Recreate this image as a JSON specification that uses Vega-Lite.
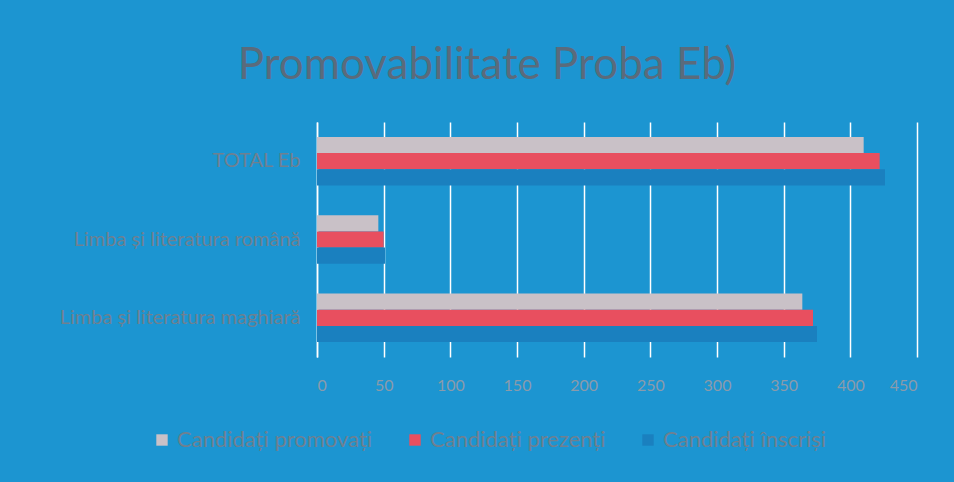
{
  "$schema": "https://vega.github.io/schema/vega-lite/v6.json",
  "autosize": {"type": "none"},
  "width": 600,
  "height": 235,
  "padding": {"left": 317, "top": 122, "right": 37, "bottom": 125},
  "background": "#1c95d1",
  "config": {"view": {"stroke": null}},
  "title": {
    "text": "Promovabilitate Proba Eb)",
    "font": "Lato",
    "fontSize": 44,
    "fontWeight": "normal",
    "color": "#5a6b7c",
    "anchor": "middle",
    "frame": "group",
    "dx": -130,
    "offset": 34
  },
  "data": {
    "values": [
      {"categorie": "TOTAL Eb", "serie": "Candidați promovați", "valoare": 410},
      {"categorie": "TOTAL Eb", "serie": "Candidați prezenți", "valoare": 422},
      {"categorie": "TOTAL Eb", "serie": "Candidați înscriși", "valoare": 426},
      {"categorie": "Limba și literatura română", "serie": "Candidați promovați", "valoare": 46},
      {"categorie": "Limba și literatura română", "serie": "Candidați prezenți", "valoare": 50},
      {"categorie": "Limba și literatura română", "serie": "Candidați înscriși", "valoare": 51},
      {"categorie": "Limba și literatura maghiară", "serie": "Candidați promovați", "valoare": 364},
      {"categorie": "Limba și literatura maghiară", "serie": "Candidați prezenți", "valoare": 372},
      {"categorie": "Limba și literatura maghiară", "serie": "Candidați înscriși", "valoare": 375}
    ]
  },
  "mark": {"type": "bar"},
  "encoding": {
    "y": {
      "field": "categorie",
      "type": "nominal",
      "sort": ["TOTAL Eb", "Limba și literatura română", "Limba și literatura maghiară"],
      "scale": {"paddingInner": 0.38, "paddingOuter": 0.19},
      "axis": {
        "title": null,
        "domain": true,
        "domainColor": "#ffffff",
        "domainWidth": 1.5,
        "ticks": false,
        "grid": false,
        "labelFont": "Lato",
        "labelFontSize": 20,
        "labelColor": "#6f8090",
        "labelPadding": 17,
        "labelLimit": 320
      }
    },
    "yOffset": {
      "field": "serie",
      "type": "nominal",
      "sort": ["Candidați promovați", "Candidați prezenți", "Candidați înscriși"],
      "scale": {"paddingInner": 0, "paddingOuter": 0}
    },
    "x": {
      "field": "valoare",
      "type": "quantitative",
      "scale": {"domain": [0, 450], "nice": false},
      "axis": {
        "title": null,
        "values": [0, 50, 100, 150, 200, 250, 300, 350, 400, 450],
        "domain": false,
        "ticks": false,
        "grid": true,
        "gridColor": "#ffffff",
        "gridWidth": 1.5,
        "gridOpacity": 1,
        "labelFont": "Lato",
        "labelFontSize": 16,
        "labelColor": "#8a9bab",
        "labelPadding": 20
      }
    },
    "color": {
      "field": "serie",
      "type": "nominal",
      "sort": ["Candidați promovați", "Candidați prezenți", "Candidați înscriși"],
      "scale": {
        "domain": ["Candidați promovați", "Candidați prezenți", "Candidați înscriși"],
        "range": ["#c9c1c7", "#e84f5f", "#1a80bf"]
      },
      "legend": {
        "title": null,
        "orient": "none",
        "direction": "horizontal",
        "legendX": -166,
        "legendY": 307,
        "symbolType": "square",
        "symbolSize": 130,
        "symbolStrokeWidth": 0,
        "labelFont": "Lato",
        "labelFontSize": 22,
        "labelColor": "#6f8090",
        "columnPadding": 31,
        "labelLimit": 300
      }
    }
  }
}
